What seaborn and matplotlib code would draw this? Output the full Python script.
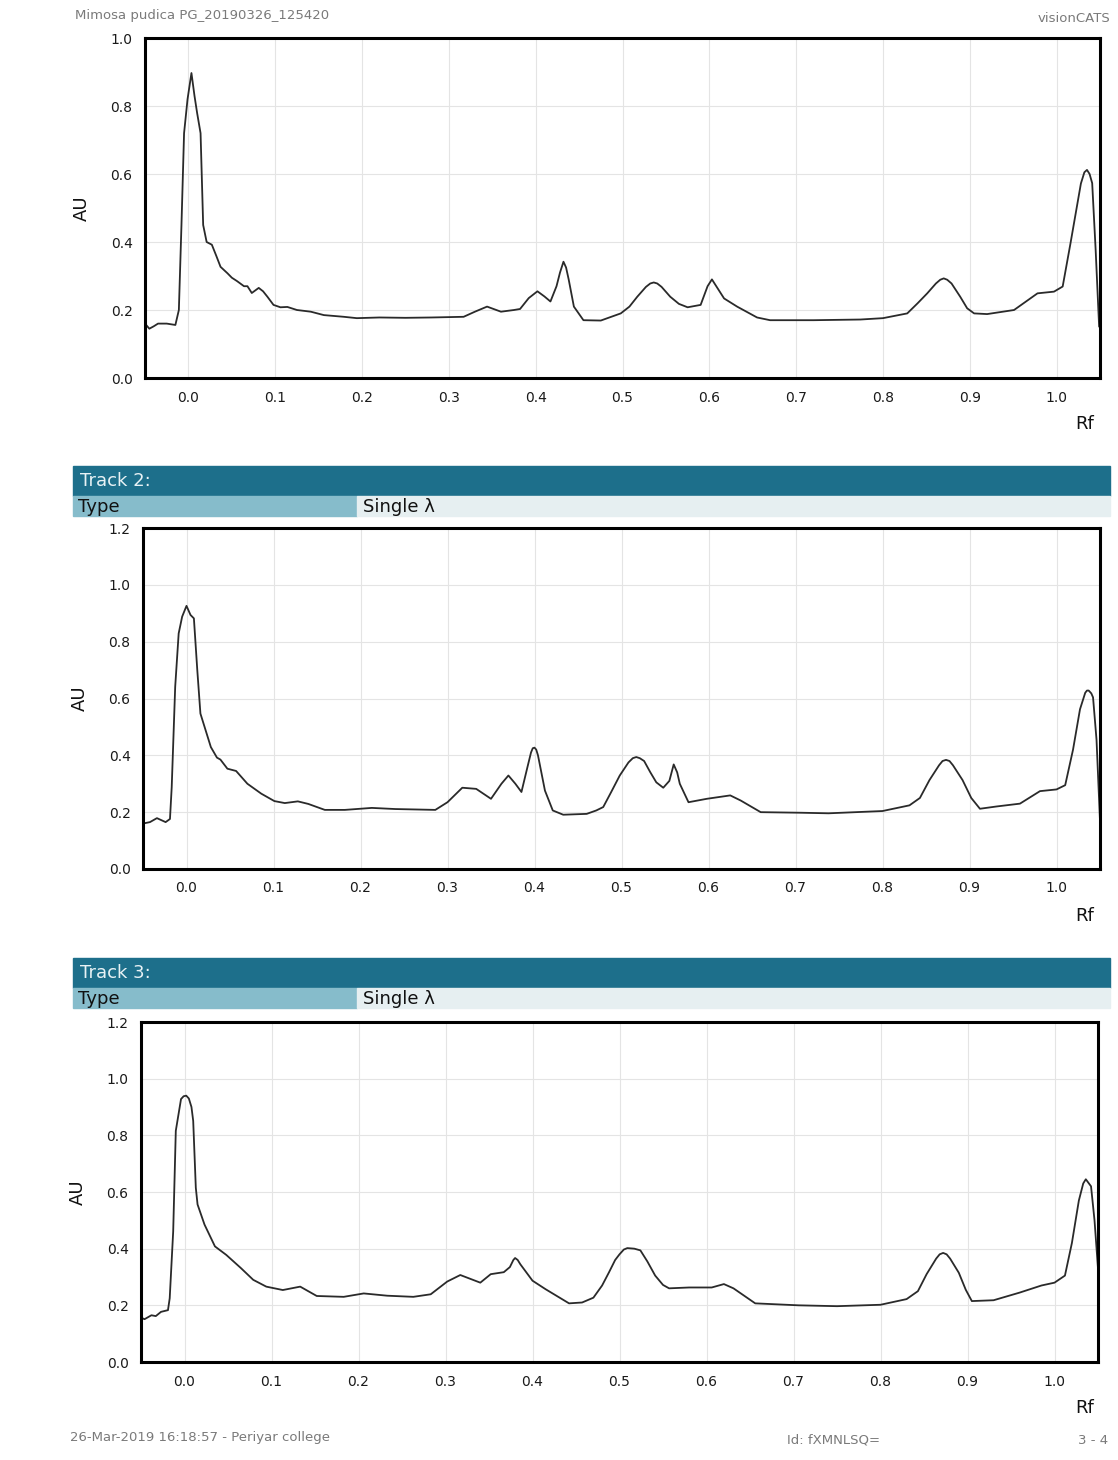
import matplotlib
matplotlib.use("Agg")
import matplotlib.pyplot as plt
import seaborn as sns
from matplotlib.patches import Rectangle

# densitogram traces (Rf, AU)
rf_track1 = [-0.05, -0.045, -0.04, -0.035, -0.025, -0.015, -0.011, -0.008, -0.005, -0.001,
             0.0035, 0.007, 0.01, 0.014, 0.017, 0.021, 0.027, 0.032, 0.037, 0.045,
             0.05, 0.056, 0.064, 0.068, 0.073, 0.081, 0.086, 0.091, 0.098, 0.106,
             0.114, 0.125, 0.141, 0.156, 0.179, 0.194, 0.22, 0.25, 0.28, 0.317,
             0.33, 0.344, 0.36, 0.375, 0.382, 0.392, 0.402, 0.41, 0.417, 0.424,
             0.428, 0.432, 0.435, 0.438, 0.444, 0.455, 0.475, 0.498, 0.508, 0.517,
             0.527, 0.532, 0.536, 0.54, 0.545, 0.555, 0.565, 0.575, 0.59, 0.598,
             0.603, 0.608, 0.617, 0.632, 0.655, 0.67, 0.72, 0.774, 0.8, 0.828,
             0.84, 0.851, 0.861, 0.866, 0.87, 0.874, 0.879, 0.889, 0.897, 0.905,
             0.92, 0.951, 0.978, 0.997, 1.007, 1.016, 1.028, 1.032, 1.035, 1.038,
             1.041, 1.045, 1.049]
au_track1 = [0.16, 0.145, 0.152, 0.16, 0.16, 0.156, 0.2, 0.45, 0.72, 0.82,
             0.897, 0.83, 0.78, 0.72, 0.45, 0.4, 0.392, 0.36, 0.327, 0.308,
             0.295, 0.285, 0.27, 0.27, 0.25, 0.265, 0.255, 0.239, 0.215, 0.208,
             0.209, 0.2, 0.195, 0.185, 0.18, 0.176, 0.178, 0.177, 0.178, 0.18,
             0.195, 0.21, 0.195, 0.2, 0.203, 0.235, 0.255, 0.24, 0.225, 0.27,
             0.31, 0.342, 0.325, 0.29, 0.21, 0.17, 0.169, 0.19, 0.21, 0.239,
             0.268, 0.278, 0.281, 0.278, 0.268, 0.239, 0.218, 0.208, 0.215, 0.27,
             0.29, 0.27, 0.234, 0.21, 0.178, 0.17, 0.17, 0.172, 0.176, 0.19,
             0.22, 0.249, 0.278, 0.289, 0.293, 0.289, 0.278, 0.239, 0.205, 0.19,
             0.188, 0.2, 0.249, 0.254, 0.269, 0.396, 0.572, 0.605, 0.612, 0.6,
             0.573, 0.376, 0.151]

rf_track2 = [-0.05, -0.042, -0.034, -0.024, -0.019, -0.017, -0.013, -0.009, -0.005, 0.0,
             0.0046, 0.0085, 0.0124, 0.016, 0.022, 0.028, 0.035, 0.039, 0.047, 0.057,
             0.07, 0.086, 0.101, 0.113, 0.128, 0.14, 0.159, 0.182, 0.213, 0.24,
             0.286, 0.3, 0.317, 0.333, 0.35, 0.362, 0.37, 0.378, 0.385, 0.392,
             0.396, 0.398, 0.4, 0.402, 0.404, 0.412, 0.421, 0.433, 0.46, 0.471,
             0.479, 0.488, 0.498, 0.508, 0.513, 0.517, 0.521, 0.526, 0.533, 0.54,
             0.548, 0.555, 0.56, 0.564, 0.567, 0.577, 0.598, 0.625, 0.637, 0.66,
             0.706, 0.738, 0.8, 0.831, 0.843, 0.854, 0.865, 0.869, 0.873, 0.877,
             0.881, 0.892, 0.902, 0.912, 0.931, 0.958, 0.981, 1.0, 1.01, 1.019,
             1.027, 1.033, 1.035, 1.037, 1.04, 1.042, 1.046, 1.05]
au_track2 = [0.16, 0.165, 0.179, 0.165, 0.176, 0.288, 0.641, 0.829, 0.888, 0.926,
             0.894, 0.882, 0.7, 0.547, 0.488, 0.429, 0.392, 0.385, 0.353, 0.345,
             0.3, 0.265, 0.239, 0.232, 0.238, 0.229, 0.208, 0.208, 0.215, 0.211,
             0.208, 0.235, 0.286, 0.282, 0.247, 0.3, 0.329, 0.3, 0.271, 0.36,
             0.41, 0.425, 0.427, 0.42, 0.4, 0.276, 0.206, 0.191, 0.194, 0.206,
             0.218, 0.27, 0.329, 0.375, 0.39, 0.394, 0.39, 0.38, 0.341, 0.305,
             0.286, 0.31, 0.368, 0.34, 0.3, 0.235, 0.247, 0.259, 0.241, 0.2,
             0.198, 0.196, 0.204, 0.224, 0.25, 0.313, 0.365, 0.38, 0.384, 0.38,
             0.365, 0.313, 0.25, 0.212, 0.22, 0.23, 0.274, 0.28, 0.295, 0.42,
             0.562, 0.62, 0.628, 0.628, 0.618, 0.604, 0.455, 0.17]

rf_track3 = [-0.052, -0.046, -0.038, -0.033, -0.027, -0.019, -0.017, -0.013, -0.01, -0.004,
             -0.001, 0.002, 0.005, 0.008, 0.01, 0.013, 0.015, 0.023, 0.035, 0.048,
             0.065, 0.079, 0.094, 0.113, 0.133, 0.152, 0.183, 0.206, 0.233, 0.263,
             0.283, 0.302, 0.317, 0.34, 0.352, 0.367, 0.374, 0.378, 0.38, 0.383,
             0.386, 0.4, 0.415, 0.442, 0.457, 0.47, 0.48, 0.488, 0.495, 0.5,
             0.505, 0.509, 0.517, 0.524, 0.532, 0.541, 0.55, 0.557, 0.58, 0.606,
             0.62, 0.631, 0.656, 0.706, 0.75, 0.8, 0.83, 0.843, 0.853, 0.864,
             0.868, 0.872, 0.876, 0.88, 0.89, 0.898, 0.905, 0.93, 0.96, 0.985,
             1.0, 1.012, 1.02, 1.028, 1.033, 1.036, 1.042, 1.046, 1.05]
au_track3 = [0.16, 0.151, 0.165, 0.162, 0.177, 0.183, 0.225, 0.461, 0.816, 0.928,
             0.938, 0.94, 0.93, 0.9, 0.851, 0.615, 0.556, 0.485, 0.408, 0.378,
             0.331, 0.29, 0.266, 0.254, 0.266, 0.233, 0.23, 0.242, 0.234, 0.23,
             0.239, 0.284, 0.307, 0.28, 0.31, 0.317, 0.335, 0.36, 0.367, 0.36,
             0.345, 0.287, 0.257, 0.207, 0.21, 0.227, 0.27, 0.317, 0.36, 0.38,
             0.397, 0.402, 0.4, 0.394, 0.355, 0.305, 0.272, 0.26, 0.263, 0.263,
             0.275, 0.26, 0.207, 0.2, 0.197, 0.202, 0.222, 0.25, 0.31, 0.365,
             0.38, 0.385, 0.38, 0.365, 0.315, 0.255, 0.215, 0.218, 0.245, 0.27,
             0.28, 0.305, 0.42, 0.57, 0.63, 0.645, 0.62, 0.5, 0.33]

x_ticks = [0.0, 0.1, 0.2, 0.3, 0.4, 0.5, 0.6, 0.7, 0.8, 0.9, 1.0]
y_ticks_1 = [0.0, 0.2, 0.4, 0.6, 0.8, 1.0]
y_ticks_23 = [0.0, 0.2, 0.4, 0.6, 0.8, 1.0, 1.2]

W, H = 1118, 1460

sns.set_style("white")
plt.rcParams['font.family'] = ['DejaVu Sans']
fig = plt.figure(figsize=(W / 100, H / 100), dpi=100)
fig.patch.set_facecolor("white")


def box(x0, y0, x1, y1):
    # pixel box (top-left origin) -> figure fraction rect
    return [x0 / W, 1 - y1 / H, (x1 - x0) / W, (y1 - y0) / H]


def draw_panel(rect, rf, au, yticks, ymax, rf_y):
    ax = fig.add_axes(rect)
    sns.lineplot(x=rf, y=au, ax=ax, color="#2a2a2a", linewidth=1.3, sort=False)
    ax.set_xlim(-0.05, 1.05)
    ax.set_ylim(0, ymax)
    ax.set_xticks(x_ticks)
    ax.set_yticks(yticks)
    ax.set_xticklabels([f"{t:.1f}" for t in x_ticks], fontsize=10, color="#1a1a1a")
    ax.set_yticklabels([f"{t:.1f}" for t in yticks], fontsize=10, color="#1a1a1a")
    ax.tick_params(length=0, pad=9)
    ax.grid(True, color="#e4e4e4", linewidth=0.8)
    for s in ax.spines.values():
        s.set_visible(True)
        s.set_color("black")
        s.set_linewidth(2.2)
    ax.set_xlabel("")
    ax.set_ylabel("AU", fontsize=13, color="#111", labelpad=14)
    fig.text(1085 / W, 1 - rf_y / H, "Rf", fontsize=13, color="#111",
             ha="center", va="center")
    return ax


def track_header(y_top, label):
    r = box(73, y_top, 1110, y_top + 30)
    fig.patches.append(Rectangle(r[:2], r[2], r[3], transform=fig.transFigure,
                                 color="#1d6f8b", zorder=0))
    r = box(73, y_top + 30, 357, y_top + 50)
    fig.patches.append(Rectangle(r[:2], r[2], r[3], transform=fig.transFigure,
                                 color="#86bccb", zorder=0))
    r = box(357, y_top + 30, 1110, y_top + 50)
    fig.patches.append(Rectangle(r[:2], r[2], r[3], transform=fig.transFigure,
                                 color="#e6eff1", zorder=0))
    fig.text(80 / W, 1 - (y_top + 15) / H, label, fontsize=13, color="#e8f2f5",
             va="center")
    fig.text(78 / W, 1 - (y_top + 41) / H, "Type", fontsize=13, color="#111",
             va="center")
    fig.text(363 / W, 1 - (y_top + 41) / H, "Single \u03bb", fontsize=13, color="#111",
             va="center")


draw_panel(box(145, 38, 1100, 378), rf_track1, au_track1, y_ticks_1, 1.0, 424)
track_header(466, "Track 2:")
draw_panel(box(143, 528, 1100, 869), rf_track2, au_track2, y_ticks_23, 1.2, 916)
track_header(958, "Track 3:")
draw_panel(box(141, 1022, 1098, 1362), rf_track3, au_track3, y_ticks_23, 1.2, 1408)

# page header and footer
fig.text(75 / W, 1 - 16 / H, "Mimosa pudica PG_20190326_125420", fontsize=9.5,
         color="#7a7a7a", va="center")
fig.text(1110 / W, 1 - 18 / H, "visionCATS", fontsize=9.5, color="#7a7a7a",
         va="center", ha="right")
fig.text(70 / W, 1 - 1438 / H, "26-Mar-2019 16:18:57 - Periyar college", fontsize=9.5,
         color="#7a7a7a", va="center")
fig.text(787 / W, 1 - 1440 / H, "Id: fXMNLSQ=", fontsize=9.5, color="#7a7a7a",
         va="center")
fig.text(1108 / W, 1 - 1440 / H, "3 - 4", fontsize=9.5, color="#7a7a7a",
         va="center", ha="right")

fig.savefig("out.png", dpi=100)
